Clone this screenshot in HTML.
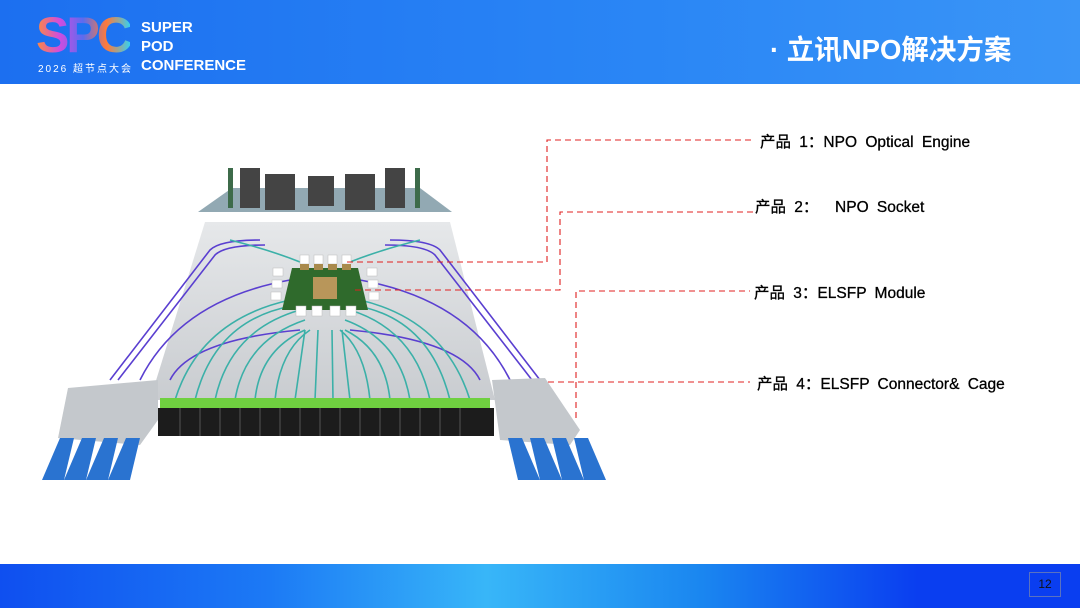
<!DOCTYPE html>
<html><head><meta charset="utf-8"><style>
body{margin:0;width:1080px;height:608px;overflow:hidden;background:#fff;font-family:"Liberation Sans","Noto Sans CJK SC",sans-serif;position:relative}
.hdr{position:absolute;left:0;top:0;width:1080px;height:84px;background:linear-gradient(90deg,#1c6ff0,#2a86f5 60%,#3a95f7)}
.ftr{position:absolute;left:0;top:564px;width:1080px;height:44px;background:linear-gradient(90deg,#0f4ff0 0%,#1c7af5 25%,#38b6f8 45%,#1a86f0 65%,#0a3ef0 85%,#0a3ef0)}
.lbl{position:absolute;font-size:15.5px;color:#000;word-spacing:4px;white-space:nowrap;-webkit-text-stroke:0.3px #000}
</style></head><body>
<div class="hdr">
 <div style="position:absolute;left:36px;top:10px;font:bold 50px/50px 'Liberation Sans',sans-serif;letter-spacing:-3px;background:linear-gradient(90deg,#ff8a3c,#d04ce0,#5a6cf0,#ff7a3a,#36d0f0);-webkit-background-clip:text;color:transparent">SPC</div>
 <div style="position:absolute;left:38px;top:60px;font-size:10px;color:#fff;letter-spacing:2px">2026 超节点大会</div>
 <div style="position:absolute;left:141px;top:18px;font:bold 15px/19px 'Liberation Sans',sans-serif;color:#fff">SUPER<br>POD<br>CONFERENCE</div>
 <div style="position:absolute;left:770px;top:27px;font-size:27.5px;font-weight:bold;color:#fff">· 立讯NPO解决方案</div>
</div>
<svg width="1080" height="608" style="position:absolute;left:0;top:0">
 <defs><linearGradient id="bd" x1="0" y1="0" x2="0" y2="1"><stop offset="0" stop-color="#e6e8ea"/><stop offset="1" stop-color="#c9ccd0"/></linearGradient></defs>
 <polygon points="205,222 450,222 495,400 150,400" fill="url(#bd)"/>
 <polygon points="198,212 232,188 420,188 452,212" fill="#7f9aa6" opacity="0.85"/>
 <g fill="#444"><rect x="240" y="168" width="20" height="40"/><rect x="265" y="174" width="30" height="36"/><rect x="308" y="176" width="26" height="30"/><rect x="345" y="174" width="30" height="36"/><rect x="385" y="168" width="20" height="40"/></g>
 <g fill="#3d6b4a"><rect x="228" y="168" width="5" height="40"/><rect x="415" y="168" width="5" height="40"/></g>
 <g fill="none" stroke-width="1.6">
  <g stroke="#5a3fd0">
   <path d="M110,380 L210,250 Q220,240 260,240"/><path d="M118,380 L215,255 Q225,245 265,245"/>
   <path d="M540,380 L440,250 Q430,240 390,240"/><path d="M532,380 L435,255 Q425,245 385,245"/>
   <path d="M140,380 Q180,300 290,280"/><path d="M510,380 Q470,300 360,280"/>
   <path d="M170,380 Q190,340 300,330"/><path d="M480,380 Q460,340 350,330"/>
  </g>
  <g stroke="#3bb0a8">
   <path d="M175,400 Q200,320 290,300"/><path d="M195,400 Q215,320 292,306"/><path d="M215,400 Q230,330 300,310"/><path d="M235,400 Q245,340 305,320"/><path d="M255,400 Q260,350 305,330"/><path d="M275,400 Q280,350 310,330"/><path d="M295,400 L305,330"/><path d="M315,400 L318,330"/>
   <path d="M470,400 Q445,320 360,300"/><path d="M450,400 Q430,320 358,306"/><path d="M430,400 Q415,330 350,310"/><path d="M410,400 Q400,340 345,320"/><path d="M390,400 Q385,350 345,330"/><path d="M370,400 Q365,350 340,330"/><path d="M350,400 L342,330"/><path d="M333,400 L332,330"/>
   <path d="M230,240 Q270,250 300,262"/><path d="M420,240 Q380,250 350,262"/>
  </g>
 </g>
 <polygon points="292,268 358,268 368,310 282,310" fill="#2f6a2c"/>
 <rect x="313" y="277" width="24" height="22" fill="#b8965a"/>
 <g fill="#fff" stroke="#bbb" stroke-width="0.5"><rect x="300" y="255" width="9" height="9"/><rect x="314" y="255" width="9" height="9"/><rect x="328" y="255" width="9" height="9"/><rect x="342" y="255" width="9" height="9"/><rect x="296" y="306" width="10" height="10"/><rect x="312" y="306" width="10" height="10"/><rect x="330" y="306" width="10" height="10"/><rect x="346" y="306" width="10" height="10"/><rect x="273" y="268" width="10" height="8"/><rect x="272" y="280" width="10" height="8"/><rect x="271" y="292" width="10" height="8"/><rect x="367" y="268" width="10" height="8"/><rect x="368" y="280" width="10" height="8"/><rect x="369" y="292" width="10" height="8"/></g>
 <g fill="#a98a4c"><rect x="300" y="264" width="9" height="6"/><rect x="314" y="264" width="9" height="6"/><rect x="328" y="264" width="9" height="6"/><rect x="342" y="264" width="9" height="6"/></g>
 <rect x="160" y="398" width="330" height="12" fill="#6fd040"/>
 <rect x="158" y="408" width="336" height="28" fill="#1c1c1c"/>
 <g stroke="#555" stroke-width="1"><path d="M180,408V436M200,408V436M220,408V436M240,408V436M260,408V436M280,408V436M300,408V436M320,408V436M340,408V436M360,408V436M380,408V436M400,408V436M420,408V436M440,408V436M460,408V436"/></g>
 <polygon points="68,388 158,380 158,420 140,445 58,438" fill="#c4c8cc"/>
 <polygon points="492,380 545,378 580,430 570,445 500,440" fill="#c4c8cc"/>
 <g fill="#2a73d0">
  <path d="M60,438h14l-10,42h-22z"/><path d="M82,438h14l-10,42h-22z"/><path d="M104,438h14l-10,42h-22z"/><path d="M126,438h14l-10,42h-22z"/>
  <path d="M508,438h14l18,42h-22z"/><path d="M530,438h14l18,42h-22z"/><path d="M552,438h14l18,42h-22z"/><path d="M574,438h14l18,42h-22z"/>
 </g>
 <g fill="none" stroke="#e02020" stroke-width="1.1" stroke-dasharray="6,4">
  <path d="M347,262H547V140H755"/>
  <path d="M355,290H560V212H755"/>
  <path d="M576,418V291H750"/>
  <path d="M548,382H750"/>
 </g>
</svg>
<div class="lbl" style="left:760px;top:130px">产品 1：NPO Optical Engine</div>
<div class="lbl" style="left:755px;top:195px">产品 2： &nbsp;NPO Socket</div>
<div class="lbl" style="left:754px;top:281px">产品 3：ELSFP Module</div>
<div class="lbl" style="left:757px;top:372px">产品 4：ELSFP Connector&amp; Cage</div>
<div class="ftr"></div>
<div style="position:absolute;left:1029px;top:572px;width:30px;height:23px;border:1px solid #5a72c0;font-size:12px;line-height:23px;text-align:center;color:#111">12</div>
</body></html>
